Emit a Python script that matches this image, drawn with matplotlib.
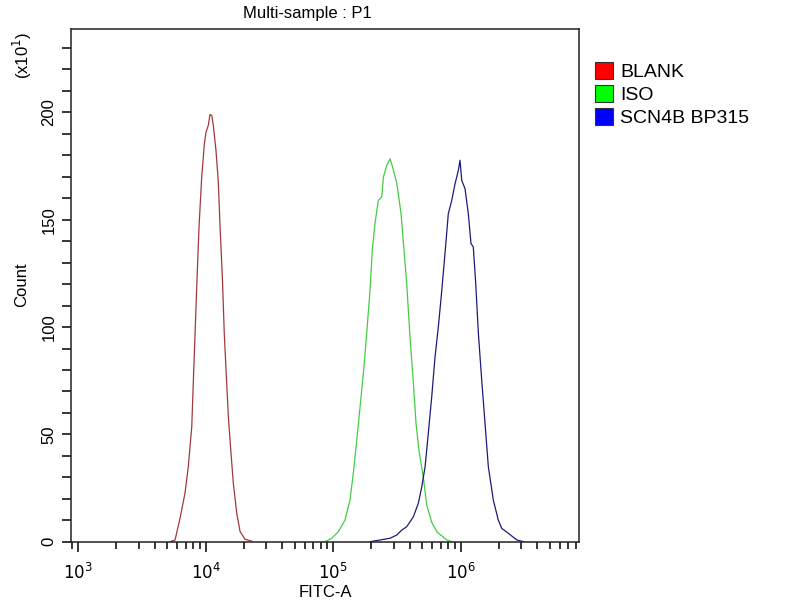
import matplotlib
matplotlib.use("Agg")
from matplotlib import pyplot as plt
from matplotlib.patches import Patch
from matplotlib.ticker import MultipleLocator, LogLocator, NullFormatter, FixedLocator

plt.rcParams['font.family'] = ['Liberation Sans', 'DejaVu Sans']

# log10(FITC-A) positions and counts (x10^1)
blank_log = [3.722, 3.761, 3.800, 3.839, 3.865, 3.892, 3.904, 3.918, 3.931, 3.949,
             3.970, 3.991, 4.004, 4.022, 4.035, 4.049, 4.061, 4.082, 4.100, 4.114,
             4.132, 4.147, 4.166, 4.179, 4.198, 4.218, 4.245, 4.271, 4.310, 4.362]
blank_count = [0, 0.8, 10.9, 22.6, 35, 53.5, 73.9, 97, 118.7, 146.6,
               169.9, 185.4, 190.8, 194, 199, 198.6, 194, 182.3, 168, 146.6,
               123.3, 97, 73.9, 58.2, 42.7, 27.2, 13.2, 4.7, 1.1, 0.3]

iso_log = [4.937, 4.990, 5.042, 5.094, 5.133, 5.159, 5.186, 5.212, 5.238, 5.264,
           5.290, 5.308, 5.329, 5.355, 5.382, 5.395, 5.421, 5.447, 5.465, 5.500,
           5.533, 5.551, 5.578, 5.604, 5.630, 5.651, 5.675, 5.708, 5.735, 5.774,
           5.816, 5.892, 5.931]
iso_count = [0, 1.6, 4.7, 10.1, 19.4, 31.8, 47.3, 62.8, 78.4, 97,
             117.1, 135.8, 148.2, 159, 160.6, 169.9, 175.3, 178.4, 175, 167,
             153, 140, 120, 95, 74, 55, 42, 30, 17, 9,
             4.5, 0.8, 0]

scn4b_log = [5.290, 5.369, 5.447, 5.500, 5.539, 5.578, 5.630, 5.669, 5.696, 5.722,
             5.747, 5.774, 5.800, 5.826, 5.853, 5.878, 5.904, 5.931, 5.957, 5.983,
             5.996, 6.009, 6.035, 6.061, 6.082, 6.100, 6.119, 6.140, 6.166, 6.192,
             6.218, 6.257, 6.296, 6.323, 6.375, 6.441, 6.493]
scn4b_count = [0, 0.8, 1.6, 3.1, 5.4, 7, 11.6, 17.9, 25.6, 34.9,
               50.4, 67.5, 86.1, 100.1, 117.1, 134.2, 152.8, 159, 166.8, 173,
               177.7, 168.4, 164.5, 152.8, 138.9, 137.3, 120.3, 97, 75.3, 55.1,
               34.9, 19.4, 10.1, 6.2, 3.9, 0.8, 0]

labels = ["BLANK", "ISO", "SCN4B BP315"]
y_ticks = [0, 50, 100, 150, 200]

fig = plt.figure(figsize=(8, 6), dpi=100)
ax = fig.add_axes([0.08875, 0.0972, 0.635, 0.855])

series = [(blank_log, blank_count, '#a03a3a'),
          (iso_log, iso_count, '#44cc44'),
          (scn4b_log, scn4b_count, '#1c1c78')]
for logs, counts, color in series:
    ax.plot([10 ** v for v in logs], counts, color=color, lw=0.9)

ax.set_xscale('log')
ax.set_xlim(10 ** 2.945, 10 ** 6.929)
ax.set_ylim(0, 239)

ax.xaxis.set_major_locator(FixedLocator([1e3, 1e4, 1e5, 1e6]))
ax.xaxis.set_minor_locator(LogLocator(base=10, subs=range(2, 10)))
ax.xaxis.set_minor_formatter(NullFormatter())
ax.set_xticklabels([r'$10^3$', r'$10^4$', r'$10^5$', r'$10^6$'])

ax.yaxis.set_major_locator(FixedLocator(y_ticks))
ax.yaxis.set_minor_locator(MultipleLocator(10))
ax.set_yticklabels([str(v) for v in y_ticks], rotation=90, va='center')

ax.tick_params(axis='x', which='major', direction='out', length=7.5, width=1.1, labelsize=12, pad=7)
ax.tick_params(axis='x', which='minor', direction='out', length=5, width=1.1)
ax.tick_params(axis='y', which='both', direction='out', length=6.5, width=1.1, labelsize=12, pad=4)

for s in ax.spines.values():
    s.set_linewidth(1.1)
    s.set_color('#222222')

ax.set_xlabel('FITC-A', fontsize=12, labelpad=2)
fig.text(0.0275, 0.525, 'Count', rotation=90, fontsize=12, ha='center', va='center')
fig.text(0.0275, 0.908, r'(x10$^1$)', rotation=90, fontsize=12, ha='center', va='center')
fig.text(0.384, 0.978, 'Multi-sample : P1', fontsize=12, ha='center', va='center')

handles = [Patch(facecolor=c, edgecolor='#333333', lw=0.8) for c in ['#ff0000', '#00ff00', '#0000ff']]
ax.legend(handles, labels, loc='upper left', bbox_to_anchor=(1.031, 0.935), frameon=False,
          fontsize=14, handlelength=0.95, handleheight=0.95, handletextpad=0.35,
          labelspacing=0.2, borderpad=0, borderaxespad=0)

fig.savefig('out.png', dpi=100)
